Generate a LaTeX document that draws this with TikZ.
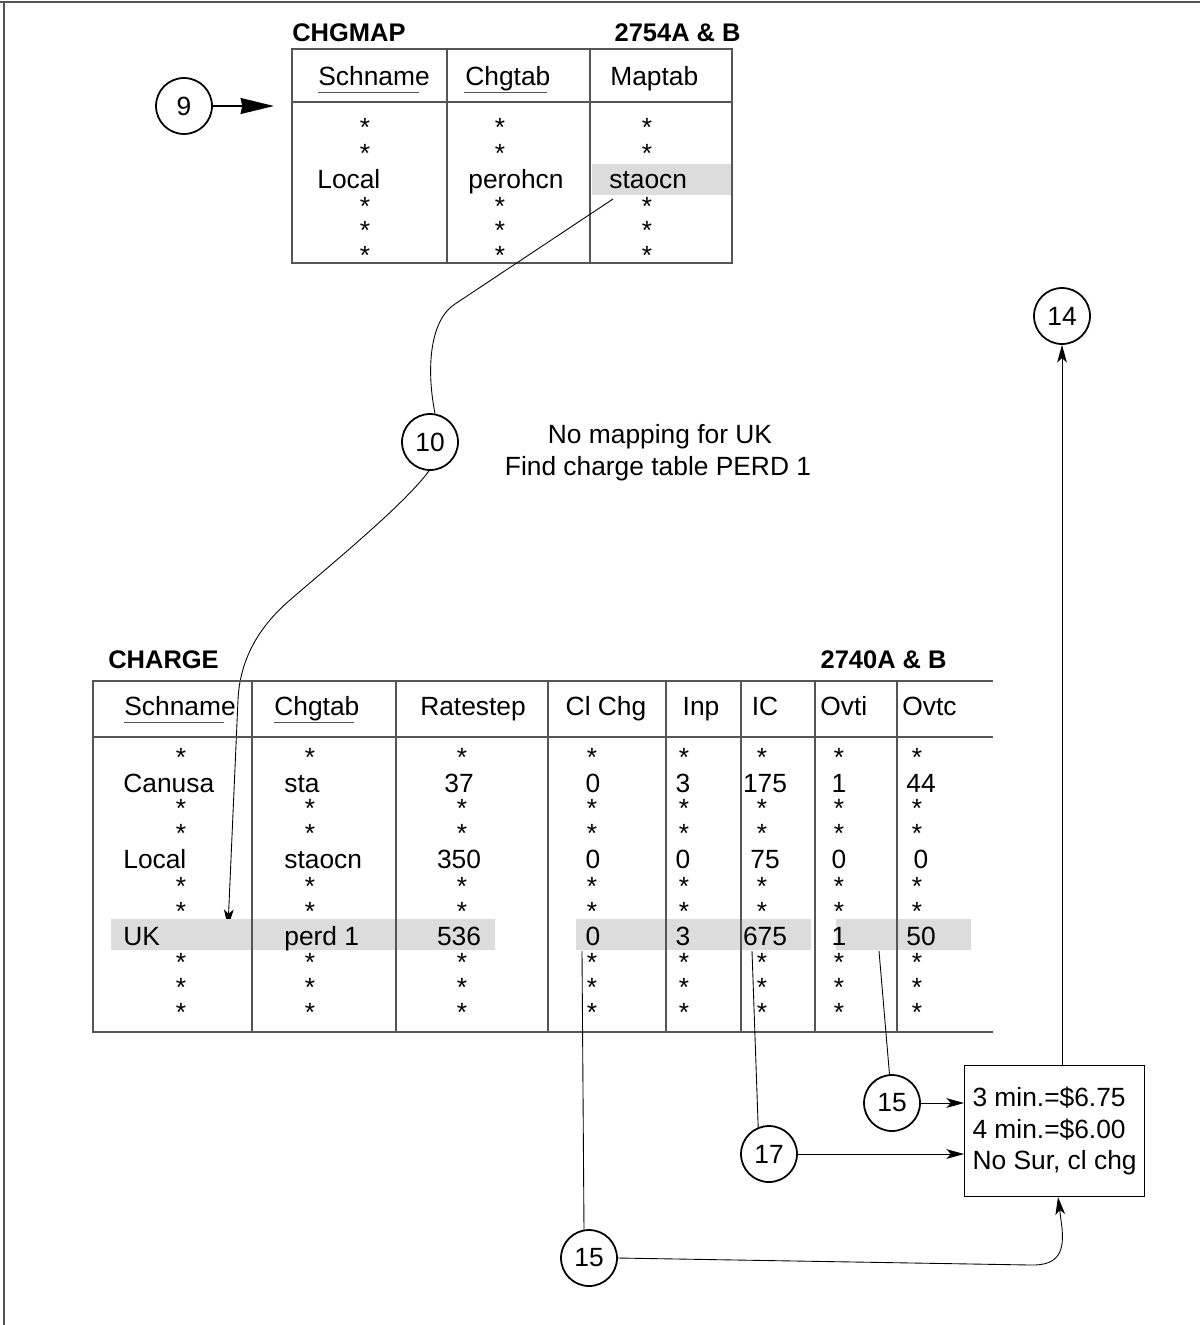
\documentclass[tikz,border=0pt]{standalone}
\usepackage{fontspec}
\setmainfont{Liberation Sans}
\usetikzlibrary{arrows.meta,calc,positioning}
\definecolor{RowGray}{RGB}{220,220,220}
\definecolor{RuleGray}{RGB}{85,85,85}

\begin{document}
\begin{tikzpicture}[x=.02cm,y=-.02cm,
    every node/.style={inner sep=0pt,font=\fontsize{15}{18}\selectfont},
    ttl/.style={font=\fontsize{14.5}{17}\selectfont\bfseries},
    cell/.style={anchor=base},
    lcell/.style={anchor=base west},
    rule/.style={draw=RuleGray,line width=.7pt},
    hl/.style={fill=RowGray},
    num/.style={circle,draw,line width=1pt,minimum size=1.12cm},
    link/.style={line width=.5pt},
    tip/.style={-{Stealth[length=10pt,width=5.5pt,inset=2.5pt]}}]
  \useasboundingbox (0,0) rectangle (1200,1325);
  \draw[RuleGray,line width=1pt] (0,2) -- (1200,2);
  \draw[RuleGray,line width=.6pt] (4,2) -- (4,1325);

  \fill[hl] (592,164) rectangle (731,195);
  \draw[rule] (292,49) rectangle (732,263) (292,102) -- (732,102)
    (447,49) -- (447,263) (590,49) -- (590,263);
  \node[ttl,anchor=base west] (mapttl) at (292,41) {CHGMAP};
  \node[ttl,anchor=base east] (mapno) at (741,41) {2754A \& B};
  \node[lcell] (mh1) at (318,85) {Schname};
  \node[lcell] (mh2) at (465,85) {Chgtab};
  \node[lcell] (mh3) at (610,85) {Maptab};
  \draw[rule,line width=.5pt] (318,92) -- (419,92) (464,92) -- (547,92);
  \foreach \x in {365,500,647}
    \foreach \y in {121,147,200,224,249}
      \node[cell] (ms\x-\y) at (\x,{\y+15}) {*};
  \node[lcell] (mloc) at (317,188) {Local};
  \node[lcell] (mchg) at (468,188) {perohcn};
  \node[lcell] (mmap) at (609,188) {staocn};

  \node[num] (c9) at (184,106) {9};
  \coordinate (mapin) at (274,106);
  \draw[line width=1.3pt,-{Stealth[length=19pt,width=9pt,inset=1pt]}] (c9) -- (mapin);

  \coordinate (mapout) at (613,199);
  \node[num] (c10) at (430,442) {10};
  \draw[link] (mapout) -- (455,304) .. controls (430,320) and (426,368) .. (c10.80);
  \node[cell] (note1) at (660,443) {No mapping for UK};
  \node[cell] (note2) at (658,475) {Find charge table PERD 1};
  \coordinate (ukin) at (228,927);
  \draw[link,tip] (c10.-92) .. controls (405,504) and (328,567) .. (290,600)
    .. controls (262,624) and (240,656) .. (238,700) -- (ukin);

  \fill[hl] (111,919) rectangle (495,950) (576,919) rectangle (811,950)
    (836,919) rectangle (971,950);
  \draw[rule] (993,681) -- (93,681) -- (93,1032) -- (993,1032) (93,737) -- (993,737);
  \foreach \x in {252,396,548,666,741,815,897}
    \draw[rule] (\x,681) -- (\x,1032);
  \node[ttl,anchor=base west] (chgttl) at (108,668) {CHARGE};
  \node[ttl,anchor=base east] (chgno) at (947,668) {2740A \& B};
  \node[lcell] (ch1) at (124,715) {Schname};
  \node[lcell] (ch2) at (274,715) {Chgtab};
  \node[cell] (ch3) at (473,715) {Ratestep};
  \node[cell] (ch4) at (606,715) {Cl Chg};
  \node[cell] (ch5) at (701,715) {Inp};
  \node[cell] (ch6) at (765,715) {IC};
  \node[lcell] (ch7) at (820,715) {Ovti};
  \node[lcell] (ch8) at (902,715) {Ovtc};
  \draw[rule,line width=.5pt] (124,722) -- (224,722) (274,722) -- (354,722);
  \foreach \x in {181,310,462,592,684,762,839,917}
    \foreach \y in {751,802,827,880,905,956,981,1006}
      \node[cell] (cs\x-\y) at (\x,{\y+15}) {*};
  \foreach \y/\a/\b/\c/\d/\e/\f/\g/\h in
      {792/Canusa/sta/37/0/3/175/1/44,868/Local/staocn/350/0/0/75/0/0,
       945/UK/perd 1/536/0/3/675/1/50}{
    \node[lcell] (d\y a) at (123,\y) {\a};
    \node[lcell] (d\y b) at (284,\y) {\b};
    \node[cell] (d\y c) at (459,\y) {\c};
    \node[cell] (d\y d) at (593,\y) {\d};
    \node[cell] (d\y e) at (683,\y) {\e};
    \node[cell] (d\y f) at (765,\y) {\f};
    \node[cell] (d\y g) at (839,\y) {\g};
    \node[cell] (d\y h) at (921,\y) {\h};
  }

  \coordinate (clout) at (582,951);
  \coordinate (icout) at (752,951);
  \coordinate (ovout) at (879,951);
  \node[num] (c15a) at (589,1258) {15};
  \node[num] (c17) at (769,1154) {17};
  \node[num] (c15b) at (892,1103) {15};
  \draw[link] (clout) -- (c15a.100);
  \draw[link] (icout) -- (c17.112);
  \draw[link] (ovout) -- (c15b.95);

  \node[draw,line width=.6pt,align=left,inner xsep=.16cm,minimum height=2.62cm,
    anchor=north west] (rate) at (964,1065) {3 min.=\$6.75\\4 min.=\$6.00\\No Sur, cl chg};
  \draw[link,tip] (c15b) -- (c15b -| rate.west);
  \draw[link,tip] (c17) -- (c17 -| rate.west);
  \node[num] (c14) at (1062,316) {14};
  \draw[link,tip] (rate.north -| c14) -- (c14);
  \coordinate (ratein) at (1058,1197);
  \draw[link,tip] (c15a.east) -- (1030,1265) .. controls (1060,1266) and (1064,1250)
    .. (1062,1228) -- (ratein);
\end{tikzpicture}
\end{document}
